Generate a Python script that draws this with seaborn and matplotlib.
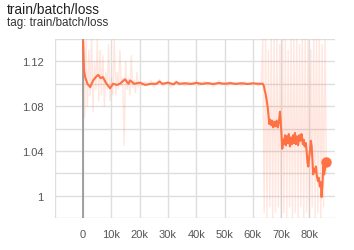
import numpy as np
import pandas as pd
import matplotlib
matplotlib.use("Agg")
import matplotlib.pyplot as plt
import seaborn as sns
from matplotlib.ticker import FuncFormatter, MultipleLocator

# ---- data ----
raw_early = [1.145, 1.07, 1.14, 1.08, 1.13, 1.09, 1.145, 1.075, 1.12, 1.095,
             1.14, 1.085, 1.13, 1.09, 1.125, 1.08, 1.11, 1.095, 1.135, 1.085,
             1.105, 1.09, 1.14, 1.09, 1.11, 1.095, 1.13, 1.098, 1.105, 1.045,
             1.12, 1.095, 1.105, 1.09, 1.125, 1.097, 1.103, 1.092, 1.11, 1.097,
             1.102]
raw_mid = [1.098, 1.102, 1.099, 1.103, 1.097, 1.101, 1.104, 1.098, 1.100, 1.102,
           1.097, 1.101, 1.103, 1.099, 1.100, 1.098, 1.102, 1.101, 1.099, 1.103,
           1.098, 1.100, 1.102, 1.099, 1.101, 1.097, 1.100, 1.103, 1.099, 1.101,
           1.098, 1.102, 1.100, 1.099, 1.101, 1.098, 1.102, 1.100, 1.099, 1.101,
           1.100, 1.098, 1.101]
raw_late = [1.14, 0.985, 1.145, 0.98, 1.13, 0.99, 1.145, 0.98, 1.14, 0.985,
            1.145, 0.99, 1.135, 0.98, 1.145, 0.985, 1.14, 0.98, 1.13, 0.99,
            1.145, 0.98, 1.14, 0.985, 1.145, 0.98, 1.135, 0.99, 1.145, 0.98,
            1.14, 0.985, 1.145, 0.98, 1.13, 0.99, 1.145, 0.98, 1.14, 0.985,
            1.145, 0.98, 1.135, 0.99, 1.14, 1.02]
raw_steps = np.concatenate([np.arange(0, 20001, 500),
                            np.arange(21000, 63001, 1000),
                            np.arange(63500, 86001, 500)])
raw_loss = raw_early + raw_mid + raw_late

smooth_steps = [0, 300, 700, 1500, 2500, 3500, 4500, 5300, 6200, 7000,
                8000, 9500, 10600, 12000, 13000, 14800, 16000, 16600, 18000, 20000,
                22000, 24000, 26000, 27000, 28000, 30000, 32000, 33000, 34000, 36000,
                38000, 40000, 42000, 44000, 46000, 48000, 50000, 52000, 54000, 56000,
                58000, 60000, 62000, 63500, 63900, 64200, 64500, 64900, 65300, 65800,
                66100, 66500, 66800, 67200, 67600, 68000, 68400, 68800, 69200, 69600,
                70000, 70400, 70700, 71000, 71400, 71700, 72000, 72400, 72700, 73100,
                73500, 73800, 74200, 74500, 74900, 75200, 75600, 76000, 76400, 76800,
                77200, 77700, 78000, 78300, 78700, 79000, 79300, 79600, 79900, 80200,
                80500, 80800, 81100, 81300, 81700, 82000, 82300, 82600, 83000, 83300,
                83700, 84000, 84300, 84600, 84900, 85200, 85500, 85900]
smooth_loss = [1.138, 1.112, 1.106, 1.100, 1.097, 1.103, 1.106, 1.108, 1.105, 1.106,
               1.101, 1.096, 1.100, 1.099, 1.100, 1.104, 1.100, 1.103, 1.100, 1.101,
               1.099, 1.100, 1.1, 1.102, 1.100, 1.101, 1.0995, 1.1015, 1.100, 1.1005,
               1.0998, 1.1008, 1.0999, 1.1006, 1.0998, 1.1007, 1.1, 1.1006, 1.0999, 1.1005,
               1.0998, 1.1004, 1.1, 1.100, 1.098, 1.094, 1.091, 1.085, 1.078, 1.064,
               1.068, 1.063, 1.067, 1.061, 1.066, 1.062, 1.067, 1.061, 1.066, 1.075,
               1.060, 1.042, 1.050, 1.046, 1.054, 1.045, 1.053, 1.047, 1.055, 1.044,
               1.052, 1.046, 1.054, 1.047, 1.056, 1.046, 1.053, 1.045, 1.054, 1.049,
               1.055, 1.046, 1.050, 1.044, 1.047, 1.040, 1.030, 1.026, 1.034, 1.040,
               1.049, 1.044, 1.030, 1.019, 1.024, 1.021, 1.026, 1.018, 1.013, 1.016,
               1.008, 1.012, 0.9987, 1.010, 1.026, 1.019, 1.024, 1.030]

x_ticks = [0, 10000, 20000, 30000, 40000, 50000, 60000, 70000, 80000]
y_ticks = [1.00, 1.04, 1.08, 1.12]

raw_df = pd.DataFrame({"step": raw_steps, "loss": raw_loss})
smooth_df = pd.DataFrame({"step": smooth_steps, "loss": smooth_loss})

# ---- style ----
sns.set_style("white")
plt.rcParams["font.family"] = ["Liberation Sans", "DejaVu Sans"]

color = "#ff7043"
grid_c = "#dedede"

fig = plt.figure(figsize=(3.54, 2.51), dpi=100)
ax = fig.add_axes([0.155, 0.1275, 0.791, 0.713])

sns.lineplot(data=raw_df, x="step", y="loss", ax=ax, color=color, alpha=0.17,
             linewidth=1.0, estimator=None, sort=False)
sns.lineplot(data=smooth_df, x="step", y="loss", ax=ax, color=color,
             linewidth=1.5, estimator=None, sort=False)
ax.plot(smooth_df["step"].iloc[-1], smooth_df["loss"].iloc[-1], "o",
        color=color, markersize=6.5, zorder=5)

ax.axvline(0, color="#9a9a9a", linewidth=1.3, zorder=1)

ax.set_xlim(-10000, 89000)
ax.set_ylim(0.98, 1.14)
ax.xaxis.set_major_locator(MultipleLocator(10000))
ax.yaxis.set_major_locator(MultipleLocator(0.02))

def xfmt(v, pos):
    for t in x_ticks:
        if abs(v - t) < 1:
            return "0" if t == 0 else f"{t // 1000}k"
    return ""

def yfmt(v, pos):
    for t in y_ticks:
        if abs(v - t) < 1e-6:
            return f"{t:g}"
    return ""

ax.xaxis.set_major_formatter(FuncFormatter(xfmt))
ax.yaxis.set_major_formatter(FuncFormatter(yfmt))
ax.grid(True, color=grid_c, linewidth=1.0)
ax.set_axisbelow(True)
for s in ax.spines.values():
    s.set_visible(False)
ax.tick_params(axis="both", colors=grid_c, labelcolor="#555555", labelsize=8,
               length=5, width=1)
ax.tick_params(axis="x", length=0, pad=8)
ax.tick_params(axis="y", pad=3)
ax.set_xlabel("")
ax.set_ylabel("")

fig.text(7/354, 1 - 2.5/251, "train/batch/loss", fontsize=9.9, color="#212121",
         ha="left", va="top")
fig.text(7/354, 1 - 17.5/251, "tag: train/batch/loss", fontsize=8.4, color="#333333",
         ha="left", va="top")

fig.savefig("out.png", dpi=100)
